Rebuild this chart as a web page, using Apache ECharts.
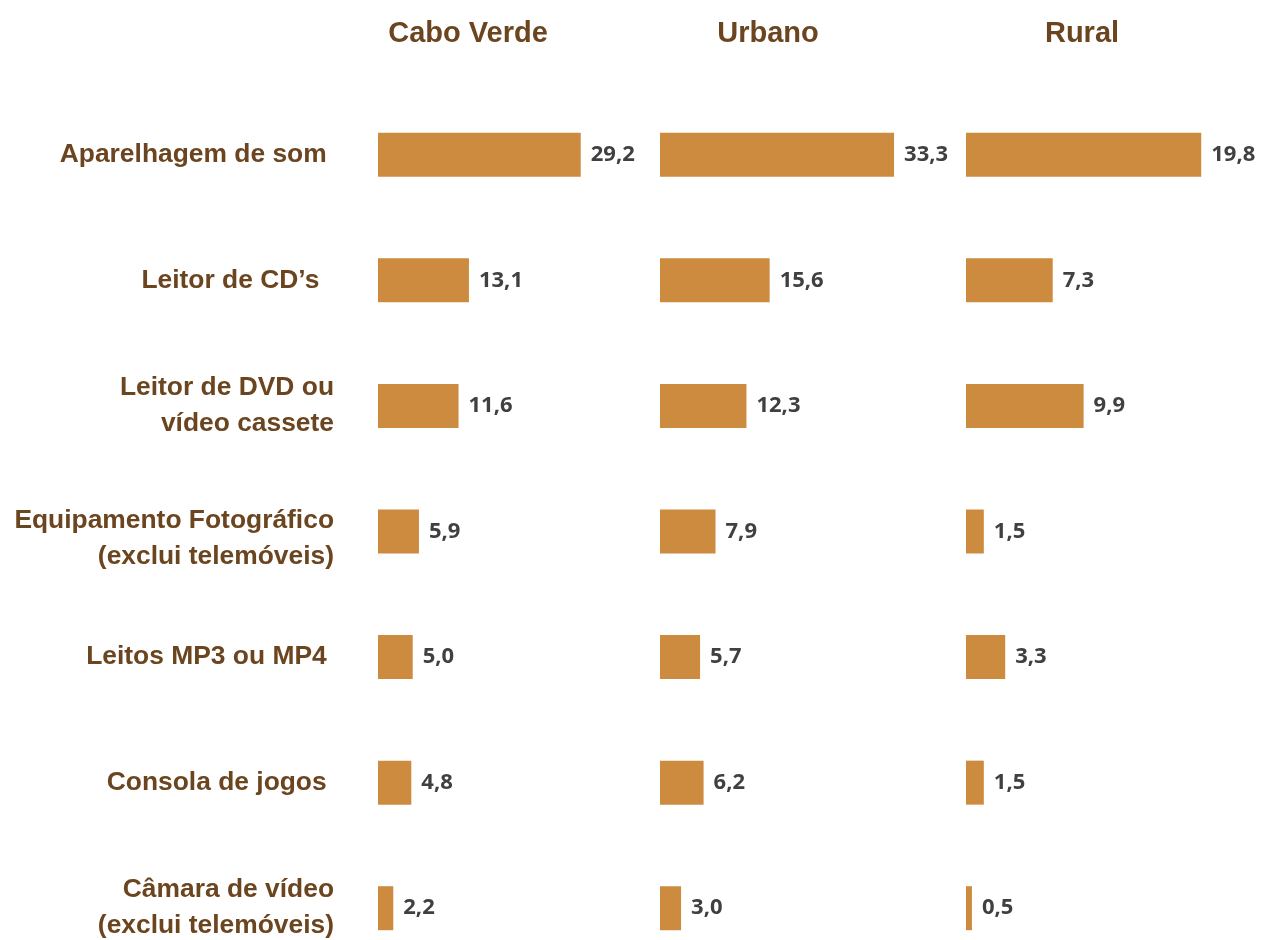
<!DOCTYPE html>
<html>
<head>
<meta charset="utf-8">
<script src="https://cdn.jsdelivr.net/npm/echarts@6/dist/echarts.min.js"></script>
<style>
html,body{margin:0;padding:0;background:#fff;}
#chart{width:1263px;height:940px;}
</style>
</head>
<body>
<div id="chart"></div>
<script>
const categories = [
  "Aparelhagem de som ",
  "Leitor de CD’s  ",
  "Leitor de DVD ou\nvídeo cassete",
  "Equipamento Fotográfico\n(exclui telemóveis)",
  "Leitos MP3 ou MP4 ",
  "Consola de jogos ",
  "Câmara de vídeo\n(exclui telemóveis)"
];
const panelTitles = ["Cabo Verde", "Urbano", "Rural"];
const caboVerde = [29.2, 13.1, 11.6, 5.9, 5.0, 4.8, 2.2];
const urbano = [33.3, 15.6, 12.3, 7.9, 5.7, 6.2, 3.0];
const rural = [19.8, 7.3, 9.9, 1.5, 3.3, 1.5, 0.5];
const axisMax = [35, 35, 25];

const seriesData = [caboVerde, urbano, rural];
const grids = [
  {left: 378, width: 243},
  {left: 660, width: 246},
  {left: 966, width: 297}
];
const titleX = [463, 763, 1077];
const BROWN = '#6B451F';
const BAR = '#CD8B3F';
const LABEL_FONT = '"Liberation Sans", Arial, sans-serif';

const chart = echarts.init(document.getElementById('chart'), null, {renderer: 'canvas'});
const option = {
  backgroundColor: '#ffffff',
  animation: false,
  title: panelTitles.map((t, i) => ({
    text: t,
    left: titleX[i],
    top: 14,
    textAlign: 'center',
    textStyle: {fontFamily: LABEL_FONT, fontWeight: 'bold', fontSize: 29, color: BROWN}
  })),
  grid: grids.map(g => ({left: g.left, width: g.width, top: 92, height: 879, containLabel: false, outerBoundsMode: 'none'})),
  xAxis: grids.map((g, i) => ({
    type: 'value', gridIndex: i, min: 0, max: axisMax[i],
    show: false, splitLine: {show: false}
  })),
  yAxis: grids.map((g, i) => ({
    type: 'category', gridIndex: i, data: categories, inverse: true,
    axisLine: {show: false}, axisTick: {show: false}, splitLine: {show: false},
    axisLabel: {
      show: i === 0, margin: 44, align: 'right',
      fontFamily: LABEL_FONT, fontWeight: 'bold',
      fontSize: 26.4, lineHeight: 36, color: BROWN,
      formatter: (v, idx) => {
        if (idx === 3) {
          const lines = v.split('\n');
          return '{e| }\n{n|' + lines[0] + '}\n{n|' + lines[1] + '}';
        }
        return v;
      },
      rich: {
        e: {fontSize: 2, lineHeight: 14, height: 14},
        n: {fontFamily: LABEL_FONT, fontWeight: 'bold', fontSize: 26.4, color: BROWN, lineHeight: 36, align: 'right'}
      }
    }
  })),
  series: seriesData.map((d, i) => ({
    type: 'bar', xAxisIndex: i, yAxisIndex: i, data: d, barWidth: 44,
    itemStyle: {color: BAR},
    label: {
      show: true, position: 'right', distance: 10,
      formatter: p => p.value.toFixed(1).replace('.', ','),
      fontFamily: '"Open Sans", sans-serif', fontWeight: 'bold', fontSize: 22, color: '#404040'
    }
  }))
};
chart.setOption(option);
</script>
</body>
</html>
